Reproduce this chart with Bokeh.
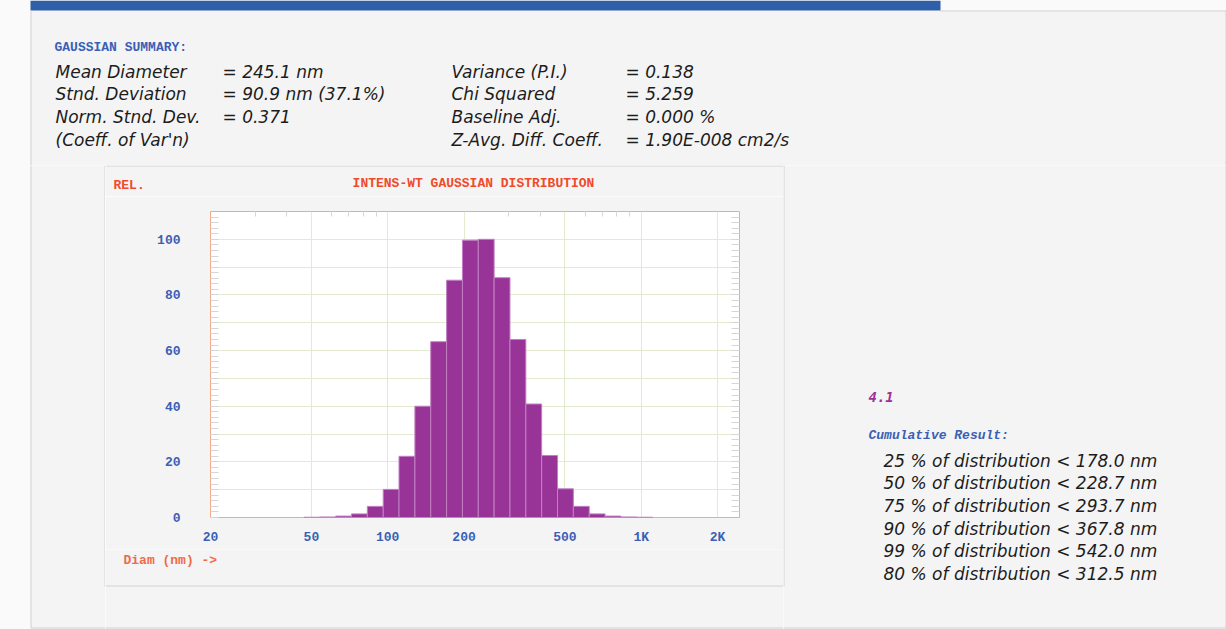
from bokeh.plotting import figure
from bokeh.models import FixedTicker, LinearAxis, Range1d
from bokeh.layouts import column, row
from bokeh.core.properties import value
from bokeh.embed import file_html
from bokeh.resources import INLINE

# ---------------- data ----------------
bin_left_nm = [46.7, 53.9, 62.3, 71.9, 83.1, 96.0, 110.8, 128.0, 147.8, 170.7, 197.1,
               227.6, 262.8, 303.5, 350.5, 404.7, 467.4, 539.7, 623.3, 719.8, 831.2, 959.9]
bin_right_nm = [53.9, 62.3, 71.9, 83.1, 96.0, 110.8, 128.0, 147.8, 170.7, 197.1, 227.6,
                262.8, 303.5, 350.5, 404.7, 467.4, 539.7, 623.3, 719.8, 831.2, 959.9, 1108.5]
rel_intensity = [0.1, 0.2, 0.5, 1.3, 4.0, 10.1, 22.0, 40.0, 63.2, 85.3, 99.7,
                 100.0, 86.2, 64.0, 40.8, 22.3, 10.3, 4.0, 1.3, 0.5, 0.2, 0.1]

x_tick_values = [20, 50, 100, 200, 500, 1000, 2000]
x_tick_labels = ["20", "50", "100", "200", "500", "1K", "2K"]
y_tick_values = [0, 20, 40, 60, 80, 100]

summary_title = "GAUSSIAN SUMMARY:"
summary_left_labels = ["Mean Diameter", "Stnd. Deviation", "Norm. Stnd. Dev.", "(Coeff. of Var'n)"]
summary_left_values = ["= 245.1 nm", "= 90.9  nm (37.1%)", "= 0.371"]
summary_right_labels = ["Variance (P.I.)", "Chi Squared", "Baseline Adj.", "Z-Avg. Diff. Coeff."]
summary_right_values = ["= 0.138", "= 5.259", "= 0.000 %", "= 1.90E-008 cm2/s"]

chart_title = "INTENS-WT GAUSSIAN DISTRIBUTION"
y_label = "REL."
x_label = "Diam (nm) ->"

run_id = "4.1"
cumulative_title = "Cumulative Result:"
cumulative_lines = ["25 % of distribution <  178.0 nm",
                    "50 % of distribution <  228.7 nm",
                    "75 % of distribution <  293.7 nm",
                    "90 % of distribution <  367.8 nm",
                    "99 % of distribution <  542.0 nm",
                    "80 % of distribution <  312.5 nm"]

# ---------------- style ----------------
MONO = "Liberation Mono"
SANS = "DejaVu Sans"
BLUE = "#3a5fb5"
RED = "#f04a2a"
BLACK = "#1c1c1c"
PANEL = "#f4f4f4"
LIGHT = "#fafafa"
BORDER = "#d2d2d2"
TICKC = "#d6d6d6"
GRIDC = "#e2eacf"
SANS_SIZE = 17

W, H = 1226, 629


def canvas_fig(x0, x1, y0, y1):
    f = figure(width=x1 - x0, height=y1 - y0, x_range=Range1d(x0, x1), y_range=Range1d(y1, y0),
               x_axis_location=None, y_axis_location=None, min_border=0,
               toolbar_location=None, tools="", output_backend="svg", frame_align=False)
    f.grid.visible = False
    f.outline_line_color = None
    f.background_fill_color = PANEL
    f.border_fill_color = PANEL
    return f


def hline(f, x0, x1, y, color=BORDER):
    f.segment(x0=[x0], y0=[y], x1=[x1], y1=[y], line_color=color, line_width=1)


def vline(f, x, y0, y1, color=BORDER):
    f.segment(x0=[x], y0=[y0], x1=[x], y1=[y1], line_color=color, line_width=1)


def txt(f, texts, xs, ys, color, font, size, style="normal", align="left"):
    f.text(x=xs, y=ys, text=texts, text_color=color, text_font=value(font),
           text_font_size=value(f"{size}px"), text_font_style=style,
           text_align=align, text_baseline="middle")


# ---------- top header ----------
T = canvas_fig(0, W, 0, 165)
T.quad(left=[0], right=[30], top=[0], bottom=[165], fill_color=LIGHT, line_color=None)
T.quad(left=[940], right=[W], top=[0], bottom=[10], fill_color=LIGHT, line_color=None)
T.quad(left=[30], right=[940], top=[0], bottom=[10], fill_color="#2e5fa8", line_color=None)
hline(T, 940, 1225.5, 10.5)
vline(T, 30.5, 10, 165)
vline(T, 1225.5, 10, 165)

rows_y = [71, 93.5, 116, 139]
txt(T, [summary_title], [54], [47], BLUE, MONO, 13, "bold")
txt(T, summary_left_labels, [55] * 4, rows_y, BLACK, SANS, SANS_SIZE, "italic")
txt(T, summary_left_values, [222] * 3, rows_y[:3], BLACK, SANS, SANS_SIZE, "italic")
txt(T, summary_right_labels, [451] * 4, rows_y, BLACK, SANS, SANS_SIZE, "italic")
txt(T, summary_right_values, [625] * 4, rows_y, BLACK, SANS, SANS_SIZE, "italic")

# ---------- left strip ----------
LS = canvas_fig(0, 105, 165, H)
LS.quad(left=[0], right=[30], top=[165], bottom=[H], fill_color=LIGHT, line_color=None)
vline(LS, 30.5, 165, 627.5)
hline(LS, 30.5, 105, 627.5)
vline(LS, 104.5, 165, 586)
hline(LS, 104.5, 105, 585.5)
hline(LS, 104.5, 105, 165.5)

# ---------- chart top strip ----------
CT = canvas_fig(105, 783, 165, 196)
hline(CT, 105, 783, 165.5)
txt(CT, [y_label], [113], [185], RED, MONO, 13, "bold")
txt(CT, [chart_title], [473], [183], RED, MONO, 13, "bold", align="center")

# ---------- histogram ----------
HW, HH = 678, 353
Hp = figure(x_axis_type="log", x_range=Range1d(20, 2440), y_range=Range1d(0, 110),
            width=HW, height=HH,
            min_border_left=105, min_border_top=15, min_border_right=44, min_border_bottom=32,
            output_backend="svg", toolbar_location=None, tools="", frame_align=False)
Hp.border_fill_color = PANEL
Hp.background_fill_color = "white"
Hp.outline_line_color = "#f2a98a"
Hp.outline_line_width = 1

xa = Hp.xaxis[0]
xa.ticker = FixedTicker(ticks=x_tick_values)
xa.major_label_overrides = {v: l for v, l in zip(x_tick_values, x_tick_labels)}
xa.axis_line_color = None
xa.major_tick_line_color = None
xa.minor_tick_line_color = None
xa.major_label_standoff = 6
xa.major_label_text_font = MONO
xa.major_label_text_font_size = "13px"
xa.major_label_text_font_style = "bold"
xa.major_label_text_color = BLUE

ya = Hp.yaxis[0]
ya.ticker = FixedTicker(ticks=y_tick_values, minor_ticks=list(range(2, 110, 2)))
ya.axis_line_color = None
ya.major_tick_in = 8
ya.major_tick_out = 0
ya.minor_tick_in = 8
ya.minor_tick_out = 0
ya.major_tick_line_color = TICKC
ya.minor_tick_line_color = TICKC
ya.major_label_standoff = 30
ya.major_label_text_font = MONO
ya.major_label_text_font_size = "13px"
ya.major_label_text_font_style = "bold"
ya.major_label_text_color = BLUE

ra = LinearAxis(ticker=FixedTicker(ticks=[], minor_ticks=list(range(2, 110, 2))),
                axis_line_color=None, minor_tick_in=8, minor_tick_out=0,
                minor_tick_line_color=TICKC, major_tick_line_color=None)
Hp.add_layout(ra, "right")

ta = LinearAxis(ticker=FixedTicker(ticks=[], minor_ticks=[30, 40, 60, 70, 80, 90, 300, 400, 600, 700, 800, 900]),
                axis_line_color=None, minor_tick_in=5, minor_tick_out=0,
                minor_tick_line_color=TICKC, major_tick_line_color=None)
Hp.add_layout(ta, "above")

Hp.xgrid.ticker = FixedTicker(ticks=[50, 100, 200, 500, 1000, 2000])
Hp.ygrid.ticker = FixedTicker(ticks=list(range(10, 110, 10)))
Hp.xgrid.grid_line_color = GRIDC
Hp.ygrid.grid_line_color = GRIDC

Hp.quad(left=bin_left_nm, right=bin_right_nm, top=rel_intensity, bottom=0,
        fill_color="#983498", line_color="#c27fc2", line_width=1)

# ---------- chart bottom strip ----------
CB = canvas_fig(105, 783, 549, H)
txt(CB, [x_label], [123], [560], "#f06a48", MONO, 13, "bold")
hline(CB, 105, 783, 585.5)
hline(CB, 105, 783, 627.5)

# ---------- right side ----------
RS = canvas_fig(783, W, 165, H)
vline(RS, 783.5, 165, 586)
hline(RS, 783, 783.5, 165.5)
hline(RS, 783, 783.5, 585.5)
vline(RS, 1225.5, 165, 627.5)
hline(RS, 783, 1225.5, 627.5)
txt(RS, [run_id], [868], [396], "#a0309a", "DejaVu Sans Mono", 14, "bold italic")
txt(RS, [cumulative_title], [868], [435], BLUE, MONO, 13, "bold italic")
txt(RS, cumulative_lines, [883] * 6, [460 + i * 22.7 for i in range(6)], BLACK, SANS, SANS_SIZE, "italic")

layout = column(T, row(LS, column(CT, Hp, CB, spacing=0), RS, spacing=0), spacing=0)

open("out.html", "w").write(file_html(layout, INLINE))
